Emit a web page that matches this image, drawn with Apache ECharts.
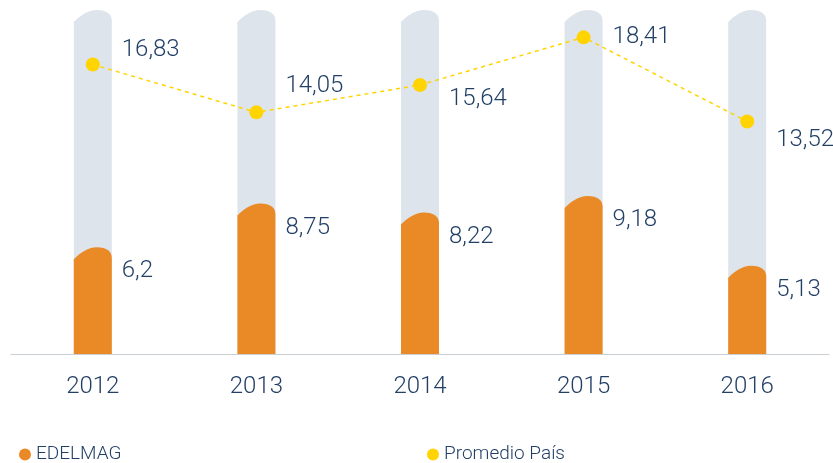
<!DOCTYPE html>
<html>
<head>
<meta charset="utf-8">
<script src="https://cdn.jsdelivr.net/npm/echarts@6/dist/echarts.min.js"></script>
<style>
  html, body { margin: 0; padding: 0; background: #fff; }
  #chart { width: 833px; height: 463px; }
</style>
</head>
<body>
<div id="chart"></div>
<script>
  const years = ['2012', '2013', '2014', '2015', '2016']
  const edelmag = [6.2, 8.75, 8.22, 9.18, 5.13]
  const promedio = [16.83, 14.05, 15.64, 18.41, 13.52]
  const backBar = [20, 20, 20, 20, 20]
  // where each line label sits relative to its point (vertical shift)
  const lineLabelShift = [-15, -26, 14, 0, 19]

  const textColor = '#223f66'
  const fontFamily = 'Roboto, "Noto Sans", sans-serif'
  const fmt = v => String(v).replace('.', ',')

  // bar with a bumped top: peak at the value, shoulders a bit lower
  function bumpBar(color, withLabel) {
    return function (params, api) {
      const top = api.coord([api.value(0), api.value(1)])
      const base = api.coord([api.value(0), 0])
      const w = 38
      const x0 = top[0] - w / 2
      const x1 = top[0] + w / 2
      const y = top[1]
      const b = base[1]
      const path = 'M' + x0 + ',' + b +
        ' L' + x0 + ',' + (y + 12) +
        ' C' + (x0 + 6) + ',' + (y + 6) + ' ' + (x0 + 14) + ',' + y + ' ' + (x0 + 23) + ',' + y +
        ' C' + (x1 - 5) + ',' + y + ' ' + x1 + ',' + (y + 4) + ' ' + x1 + ',' + (y + 11) +
        ' L' + x1 + ',' + b + ' Z'
      const children = [{
        type: 'path',
        shape: { pathData: path },
        style: { fill: color }
      }]
      if (withLabel) {
        children.push({
          type: 'text',
          style: {
            x: top[0] + 29, y: y + 24,
            text: fmt(api.value(1)),
            fill: textColor,
            font: '300 24px ' + fontFamily,
            verticalAlign: 'middle', align: 'left'
          }
        })
      }
      return { type: 'group', children: children }
    }
  }

  const chart = echarts.init(document.getElementById('chart'))
  chart.setOption({
    animation: false,
    textStyle: { fontFamily: fontFamily },
    grid: { left: 11, right: 4, top: 10, bottom: 109 },
    legend: [
      {
        data: ['EDELMAG'], left: 14, top: 440, icon: 'circle',
        itemWidth: 12, itemHeight: 12, itemGap: 5,
        textStyle: { color: textColor, fontSize: 19, fontWeight: 300, fontFamily: fontFamily }
      },
      {
        data: ['Promedio País'], left: 422, top: 440, icon: 'circle',
        itemWidth: 12, itemHeight: 12, itemGap: 5,
        textStyle: { color: textColor, fontSize: 19, fontWeight: 300, fontFamily: fontFamily }
      }
    ],
    xAxis: {
      type: 'category',
      data: years,
      axisLine: { lineStyle: { color: '#c9ced3', width: 1 } },
      axisTick: { show: false },
      axisLabel: { color: textColor, fontSize: 24, fontWeight: 300, margin: 21 }
    },
    yAxis: {
      type: 'value', min: 0, max: 20,
      show: false, splitLine: { show: false }
    },
    series: [
      {
        name: 'fondo',
        type: 'custom',
        renderItem: bumpBar('#dde4eb', false),
        encode: { x: 0, y: 1 },
        data: backBar.map((v, i) => [i, v]),
        z: 1
      },
      {
        name: 'EDELMAG',
        type: 'custom',
        renderItem: bumpBar('#e98a26', true),
        encode: { x: 0, y: 1 },
        itemStyle: { color: '#e98a26' },
        data: edelmag.map((v, i) => [i, v]),
        z: 2
      },
      {
        name: 'Promedio País',
        type: 'line',
        data: promedio.map((v, i) => ({
          value: v,
          label: { offset: [22, lineLabelShift[i]] }
        })),
        symbol: 'circle',
        symbolSize: 14,
        itemStyle: { color: '#ffd400' },
        lineStyle: { color: '#ffd400', width: 1.5, type: [4, 4] },
        label: {
          show: true,
          position: 'right',
          distance: 0,
          color: textColor, fontSize: 24, fontWeight: 300,
          formatter: p => fmt(p.value)
        },
        z: 3
      }
    ]
  })
</script>
</body>
</html>
